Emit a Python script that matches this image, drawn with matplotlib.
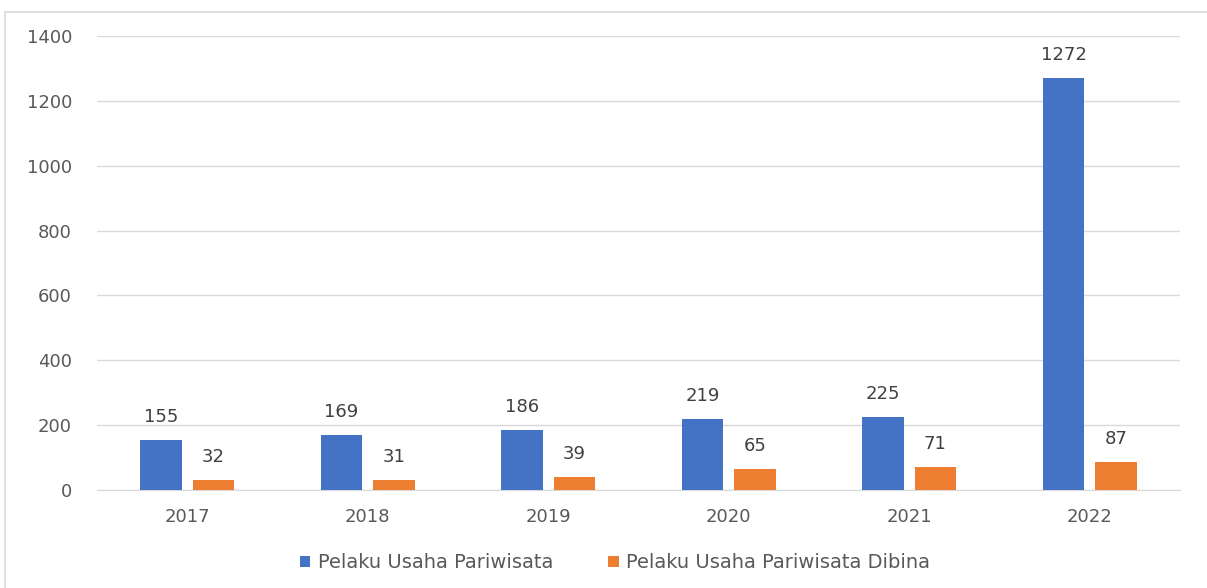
import matplotlib.pyplot as plt
import matplotlib.patches as mpatches
import numpy as np

plt.rcParams['font.family'] = ['DejaVu Sans']

years = ['2017', '2018', '2019', '2020', '2021', '2022']
pelaku = [155, 169, 186, 219, 225, 1272]
dibina = [32, 31, 39, 65, 71, 87]

blue = '#4472C4'
orange = '#ED7D31'
text_col = '#595959'

fig = plt.figure(figsize=(12.07, 5.88), dpi=100)
ax = fig.add_axes([97 / 1207, 1 - 490 / 588, (1180 - 97) / 1207, (490 - 36) / 588])

# border around chart area
fig.patches.append(mpatches.Rectangle((5 / 1207, -0.05), 1.1, 1 - 12 / 588 + 0.05,
                                      transform=fig.transFigure, fill=False,
                                      edgecolor='#d9d9d9', linewidth=1.2))

x = np.arange(len(years))
w = 0.23
b1 = ax.bar(x - 0.145, pelaku, w, color=blue, label='Pelaku Usaha Pariwisata', zorder=3)
b2 = ax.bar(x + 0.145, dibina, w, color=orange, label='Pelaku Usaha Pariwisata Dibina', zorder=3)

for bars, vals in [(b1, pelaku), (b2, dibina)]:
    for rect, v in zip(bars, vals):
        ax.annotate(str(v), (rect.get_x() + rect.get_width() / 2, v),
                    xytext=(0, 10), textcoords='offset points',
                    ha='center', va='bottom', fontsize=13, color='#404040')

ax.set_xlim(-0.5, len(years) - 0.5)
ax.set_ylim(0, 1400)
ax.set_yticks(range(0, 1401, 200))
ax.set_xticks(x)
ax.set_xticklabels(years)
ax.yaxis.grid(True, color='#d9d9d9', linewidth=1, zorder=0)
for s in ['top', 'right', 'left']:
    ax.spines[s].set_visible(False)
ax.spines['bottom'].set_color('#d9d9d9')
ax.tick_params(axis='both', length=0, labelsize=13, colors=text_col)
ax.tick_params(axis='y', pad=18)
ax.tick_params(axis='x', pad=13)

fig.legend(handles=[b1, b2], loc='center', bbox_to_anchor=(615 / 1207, 1 - 563 / 588),
           ncol=2, frameon=False, fontsize=14, labelcolor=text_col,
           handlelength=0.55, handleheight=0.55, handletextpad=0.4, columnspacing=2.8)

fig.savefig('out.png', dpi=100)
